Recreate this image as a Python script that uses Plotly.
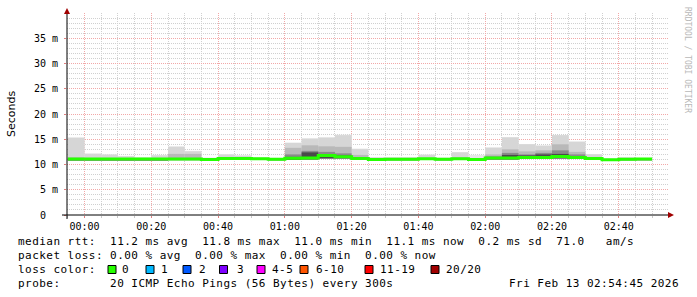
import pandas as pd
import plotly.graph_objects as go

# ---------------- data (5-minute bins, ms) ----------------
bin_start = pd.date_range("2026-02-12 23:55:00", periods=35, freq="5min")

median_ms = [11.10, 11.10, 11.10, 11.10, 11.10, 11.10, 11.10, 11.10, 11.00, 11.20,
             11.20, 11.15, 11.05, 11.25, 11.30, 11.80, 11.55, 11.20, 10.98, 11.05,
             11.05, 11.15, 11.05, 11.15, 10.97, 11.30, 11.30, 11.40, 11.40, 11.60,
             11.40, 11.20, 10.96, 11.05, 11.10]

smoke_lo = [10.85, 10.85, 10.85, 10.85, 10.85, 10.85, 10.85, 10.85, 10.80, 10.95,
            10.95, 10.90, 10.85, 10.95, 11.00, 11.20, 11.20, 10.95, 10.80, 10.85,
            10.85, 10.90, 10.85, 10.90, 10.80, 11.00, 11.00, 11.10, 11.10, 11.20,
            11.10, 10.95, 10.80, 10.85, 10.85]

# outermost (lightest) smoke band top
smoke_l1 = [15.40, 12.20, 12.00, 11.70, 11.40, 11.90, 13.60, 12.70, 11.35, 12.05,
            11.80, 11.40, 11.30, 14.35, 15.20, 15.40, 15.90, 13.15, 11.45, 11.45,
            11.45, 12.00, 11.35, 12.45, 11.90, 13.40, 15.45, 14.05, 13.80, 15.85,
            14.55, 12.05, 11.15, 11.45, 11.25]
smoke_l2 = [15.25, 12.10, 11.95, 11.60, 11.35, 11.80, 13.50, 12.60, 11.30, 11.95,
            11.75, 11.30, 11.20, 14.25, 15.10, 15.30, 15.80, 13.05, 11.40, 11.40,
            11.40, 11.90, 11.30, 12.40, 11.20, 13.30, 15.35, 14.00, 13.70, 15.80,
            14.50, 12.00, 11.10, 11.40, 11.20]
smoke_l3 = [11.40, 11.30, 11.30, 11.25, 11.20, 11.30, 12.10, 12.10, 11.10, 11.40,
            11.40, 11.25, 11.15, 13.30, 13.80, 13.60, 13.50, 11.90, 11.10, 11.15,
            11.15, 11.30, 11.15, 11.40, 11.05, 12.00, 13.00, 12.60, 12.80, 14.00,
            12.50, 11.40, 11.00, 11.10, 11.10]
smoke_l4 = [11.20, 11.10, 11.10, 11.10, 11.10, 11.10, 11.30, 11.30, 10.80, 11.20,
            11.20, 11.10, 10.85, 12.00, 12.70, 12.50, 12.20, 11.40, 10.80, 10.85,
            10.85, 11.10, 10.85, 11.20, 10.80, 11.60, 12.30, 12.00, 12.30, 12.80,
            12.00, 11.30, 10.80, 10.85, 10.85]
smoke_l5 = [10.85, 10.85, 10.85, 10.85, 10.85, 10.85, 10.85, 10.85, 10.80, 10.95,
            10.95, 10.90, 10.85, 11.50, 12.40, 12.00, 11.80, 11.30, 10.80, 10.85,
            10.85, 10.90, 10.85, 10.90, 10.80, 11.40, 11.90, 11.80, 12.00, 12.10,
            11.60, 10.95, 10.80, 10.85, 10.85]

y_tick_vals = [0, 5, 10, 15, 20, 25, 30, 35]
y_tick_text = ["0\u00a0\u00a0", "5 m", "10 m", "15 m", "20 m", "25 m", "30 m", "35 m"]

loss_labels = ["0", "1", "2", "3", "4-5", "6-10", "11-19", "20/20"]
loss_colors = ["#26ff00", "#00b8ff", "#0059ff", "#7e00ff", "#ff00ff", "#ff5500", "#ff0000", "#a10000"]

legend_lines = [
    "median rtt:  11.2 ms avg  11.8 ms max  11.0 ms min  11.1 ms now  0.2 ms sd  71.0   am/s",
    "packet loss: 0.00 % avg  0.00 % max  0.00 % min  0.00 % now",
    "loss color:",
    "probe:       20 ICMP Echo Pings (56 Bytes) every 300s",
]
stamp_text = "Fri Feb 13 02:54:45 2026"

# ---------------- geometry helpers ----------------
W, H = 697, 297
L, R, T, B = 67, 668, 13, 215
def px2x(px):
    return (px - L) / (R - L)
def py2y(py):
    return (B - py) / (B - T)

step = pd.Timedelta(minutes=5)
centers = bin_start + step / 2
edges = list(bin_start) + [bin_start[-1] + step]

fig = go.Figure()

smoke_layers = [(smoke_l1, "#e6e6e6"), (smoke_l2, "#d6d6d6"), (smoke_l3, "#b9b9b9"),
                (smoke_l4, "#8a8a8a"), (smoke_l5, "#4a4a4a")]
for tops, col in smoke_layers:
    fig.add_trace(go.Bar(
        x=centers, y=[t - b for t, b in zip(tops, smoke_lo)], base=smoke_lo,
        width=300000, marker=dict(color=col, line=dict(width=0)),
        hoverinfo="skip", showlegend=False))

fig.add_trace(go.Scatter(
    x=edges, y=median_ms + [median_ms[-1]], mode="lines",
    line=dict(color=loss_colors[0], width=3, shape="hv"),
    hoverinfo="skip", showlegend=False))

mono = "DejaVu Sans Mono"
fig.update_layout(
    width=W, height=H,
    margin=dict(l=L, r=W - R, t=T, b=H - B, pad=0),
    paper_bgcolor="white", plot_bgcolor="white",
    barmode="overlay", showlegend=False,
    font=dict(family=mono, size=10, color="black"),
    xaxis=dict(
        type="date",
        range=["2026-02-12 23:54:45", "2026-02-13 02:54:45"],
        tick0="2026-02-13 00:00:00", dtick=20 * 60 * 1000, tickformat="%H:%M",
        showgrid=True, gridcolor="#f2a8a8", griddash="1px,1px", gridwidth=1,
        ticks="outside", ticklen=2, tickcolor="#e08080",
        minor=dict(dtick=5 * 60 * 1000, showgrid=True, gridcolor="#d0d0d0",
                   griddash="1px,1px", ticks="outside", ticklen=2, tickcolor="#c8c8c8"),
        showline=False, zeroline=False,
        tickfont=dict(family=mono, size=10, color="black"),
    ),
    yaxis=dict(
        range=[0, 40], tickvals=y_tick_vals, ticktext=y_tick_text,
        showgrid=True, gridcolor="#f2a8a8", griddash="1px,1px", gridwidth=1,
        ticks="outside", ticklen=2, tickcolor="#e08080",
        minor=dict(dtick=1, showgrid=True, gridcolor="#d0d0d0", griddash="1px,1px"),
        showline=False, zeroline=False,
        tickfont=dict(family=mono, size=10, color="black"),
        ticklabelstandoff=4,
    ),
)

shapes = []
# axis lines
shapes.append(dict(type="line", xref="paper", yref="paper", x0=px2x(62), x1=px2x(669),
                   y0=0, y1=0, line=dict(color="black", width=1)))
shapes.append(dict(type="line", xref="paper", yref="paper", x0=0, x1=0,
                   y0=py2y(219), y1=py2y(12), line=dict(color="black", width=1)))
# arrows
shapes.append(dict(type="path", xref="paper", yref="paper",
                   path=f"M {px2x(67)},{py2y(8)} L {px2x(64)},{py2y(14)} L {px2x(70)},{py2y(14)} Z",
                   fillcolor="#a00000", line=dict(width=0)))
shapes.append(dict(type="path", xref="paper", yref="paper",
                   path=f"M {px2x(674)},{py2y(215)} L {px2x(668)},{py2y(212)} L {px2x(668)},{py2y(218)} Z",
                   fillcolor="#a00000", line=dict(width=0)))

annotations = []
# y-axis title
annotations.append(dict(text="Seconds", xref="paper", yref="paper", x=px2x(11), y=py2y(114),
                        textangle=-90, showarrow=False, xanchor="center", yanchor="middle",
                        font=dict(family="DejaVu Sans", size=11, color="black")))
# watermark
annotations.append(dict(text="RRDTOOL / TOBI OETIKER", xref="paper", yref="paper",
                        x=px2x(688), y=py2y(60), textangle=90, showarrow=False,
                        xanchor="center", yanchor="middle",
                        font=dict(family=mono, size=8, color="#b8b8b8")))

X0 = 16
line_y = [241.5, 255.5, 269.5, 283.5]
def spaced(s):
    return '<span style="letter-spacing:0.46px">' + s.replace(" ", "\u00a0") + "</span>"

for li, text in enumerate(legend_lines):
    annotations.append(dict(text=spaced(text), xref="paper", yref="paper",
                            x=px2x(X0), y=py2y(line_y[li]),
                            showarrow=False, xanchor="left", yanchor="middle",
                            font=dict(family=mono, size=11, color="black")))

# loss color row
sq_x = [108, 146, 183, 219.5, 257, 300, 365, 431]
lab_x = [120, 158.5, 196.5, 235, 270, 313.5, 377.5, 443.5]
for sx, lx, lab, col in zip(sq_x, lab_x, loss_labels, loss_colors):
    shapes.append(dict(type="rect", xref="paper", yref="paper",
                       x0=px2x(sx), x1=px2x(sx + 8), y0=py2y(273.5), y1=py2y(265.5),
                       fillcolor=col, line=dict(color="black", width=1)))
    annotations.append(dict(text=spaced(lab), xref="paper", yref="paper", x=px2x(lx), y=py2y(line_y[2]),
                            showarrow=False, xanchor="left", yanchor="middle",
                            font=dict(family=mono, size=11, color="black")))

annotations.append(dict(text=spaced(stamp_text), xref="paper", yref="paper", x=px2x(681), y=py2y(line_y[3]),
                        showarrow=False, xanchor="right", yanchor="middle",
                        font=dict(family=mono, size=11, color="black")))

fig.update_layout(shapes=shapes, annotations=annotations)
fig.write_html("out.html")
